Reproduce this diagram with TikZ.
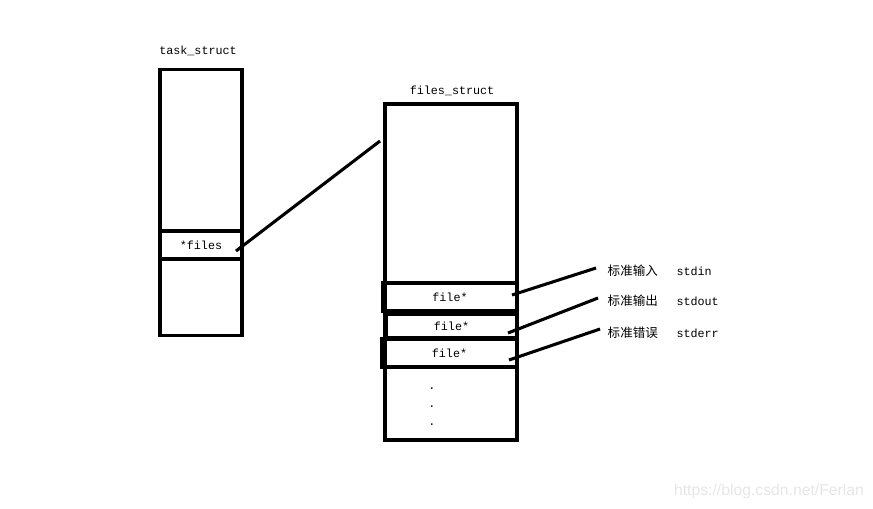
\documentclass[tikz,border=0pt]{standalone}
\usepackage{fontspec}
\setmainfont{Liberation Mono}
\newfontfamily\cjk{Noto Sans CJK SC}
\newfontfamily\wmfont{Liberation Sans}
\definecolor{wmgray}{RGB}{230,230,230}

\begin{document}
\begin{tikzpicture}[x=0.75pt, y=-0.75pt, font=\fontsize{8.8}{10}\selectfont,
                    box/.style={draw, line width=2.3pt, inner sep=0pt},
                    link/.style={draw, line width=2.3pt}]
              \useasboundingbox (0,0) rectangle (873,508);
              % task_struct
              \node[box, minimum width=61.5pt, minimum height=200pt] (task) at (201,202.5) {};
              \node[box, minimum width=61.5pt, minimum height=21pt] (files) at (201,245) {*files};
              \node (tasklab) at (198,51) {task\_struct};
              % files_struct
              \node[box, minimum width=99pt, minimum height=252pt] (fstruct) at (451,272) {};
              \node (fstructlab) at (452,91) {files\_struct};
              \node[box, minimum width=100.5pt, minimum height=21pt] (fd0) at (450,297) {file*};
              \node[box, minimum width=98.25pt, minimum height=18pt] (fd1) at (451.5,326) {file*};
              \node[box, minimum width=101.25pt, minimum height=21pt] (fd2) at (449.5,353) {file*};
              \foreach \y [count=\k] in {389,407,425}{
              \node (dot\k) at (432,\y) {.};
              }
              % pointer
              \coordinate (ptrfrom) at (236,251);
              \coordinate (ptrto) at (380,141);
              \draw[link] (ptrfrom) -- (ptrto);
              % std streams
              \foreach \i/\ly/\fx/\fy/\tx/\ty/\zh/\en in {0/271/512/295/596/268/标准输入/stdin,
                                                       1/301/508/333/598/298/标准输出/stdout,
                                                       2/333/509/360/600/329/标准错误/stderr}{
              \node[anchor=west] (lab\i) at (603,\ly) {{\cjk\fontsize{9.4}{11}\selectfont \zh}\hspace{14pt}\en};
              \coordinate (from\i) at (\fx,\fy);
              \coordinate (to\i) at (\tx,\ty);
              \path[link] (from\i) -- (to\i);
              }
              \node[text=wmgray, font=\wmfont\fontsize{11.8}{13}\selectfont] (mark) at (769,491) {https://blog.csdn.net/Ferlan};
          \end{tikzpicture}
\end{document}
